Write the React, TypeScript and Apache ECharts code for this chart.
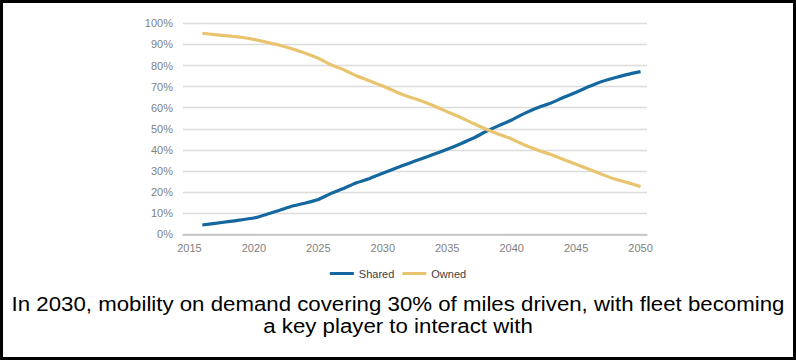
import React, { useEffect, useRef } from "react";
import * as echarts from "echarts";

const years: string[] = [];
for (let y = 2015; y <= 2050; y++) years.push(String(y));

// values in %, index 0 = 2015 (no data)
const shared: (number | null)[] = [
  null, 4.4, 5.2, 6.0, 6.8, 7.7, 9.5, 11.4, 13.4, 14.8,
  16.5, 19.4, 21.8, 24.5, 26.5, 28.9, 31.3, 33.6, 35.8, 38.0,
  40.3, 42.8, 45.5, 48.7, 51.5, 54.2, 57.3, 60.0, 62.1, 64.8,
  67.3, 70.0, 72.4, 74.2, 75.8, 77.1,
];
const owned: (number | null)[] = [
  null, 95.3, 94.6, 94.0, 93.4, 92.4, 91.0, 89.6, 87.8, 85.8,
  83.4, 80.3, 77.9, 75.0, 72.7, 70.3, 67.6, 65.2, 63.2, 60.8,
  58.1, 55.5, 52.6, 49.9, 47.4, 45.2, 42.3, 40.0, 37.9, 35.5,
  33.2, 30.8, 28.4, 26.2, 24.5, 22.6,
];
const captionLines = [
  "In 2030, mobility on demand covering 30% of miles driven, with fleet becoming",
  "a key player to interact with",
];

const FONT = "'Liberation Sans', Arial, sans-serif";

export default function App() {
  const ref = useRef<HTMLDivElement>(null);
  useEffect(() => {
    if (!ref.current) return;
    const chart = echarts.init(ref.current, undefined, { renderer: "svg" });
    chart.setOption({
      animation: false,
      backgroundColor: "#ffffff",
      textStyle: { fontFamily: FONT },
      grid: { left: 183, right: 149, top: 23.3, bottom: 125.7, containLabel: false },
      legend: {
        top: 263,
        left: "center",
        icon: "rect",
        itemWidth: 24,
        itemHeight: 3,
        itemGap: 8,
        textStyle: { fontSize: 11, color: "#404040", fontFamily: FONT },
        data: ["Shared", "Owned"],
      },
      xAxis: {
        type: "category",
        data: years,
        boundaryGap: true,
        axisTick: { show: false },
        axisLine: { lineStyle: { color: "#bfbfbf", width: 1.5 } },
        axisLabel: {
          interval: (i: number, v: string) => Number(v) % 5 === 0,
          color: "#7f7f7f",
          fontSize: 11,
          fontFamily: FONT,
          margin: 8,
        },
      },
      yAxis: {
        type: "value",
        min: 0,
        max: 100,
        interval: 10,
        axisLine: { show: false },
        axisTick: { show: false },
        axisLabel: {
          formatter: "{value}%",
          color: "#7f7f7f",
          fontSize: 11,
          fontFamily: FONT,
          margin: 10,
        },
        splitLine: { lineStyle: { color: "#dcdcdc", width: 1.3 } },
      },
      series: [
        {
          name: "Shared",
          type: "line",
          data: shared,
          showSymbol: false,
          smooth: 0.15,
          lineStyle: { color: "#14689F", width: 3.2 },
          itemStyle: { color: "#14689F" },
        },
        {
          name: "Owned",
          type: "line",
          data: owned,
          showSymbol: false,
          smooth: 0.15,
          lineStyle: { color: "#E9C46E", width: 3.2 },
          itemStyle: { color: "#E9C46E" },
        },
      ],
      graphic: [
        {
          type: "rect",
          shape: { x: 1.5, y: 1.5, width: 793, height: 357 },
          style: { fill: "none", stroke: "#000", lineWidth: 3 },
          silent: true,
        },
        ...captionLines.map((t, i) => ({
          type: "text",
          x: 398,
          y: 304 + i * 22,
          scaleX: 1.06,
          style: {
            text: t,
            textAlign: "center",
            textVerticalAlign: "middle",
            font: `21px ${FONT}`,
            fill: "#000",
          },
        })),
      ],
    });
    return () => chart.dispose();
  }, []);
  return (
    <div
      ref={ref}
      style={{ position: "absolute", left: 0, top: 0, width: 796, height: 360 }}
    />
  );
}
